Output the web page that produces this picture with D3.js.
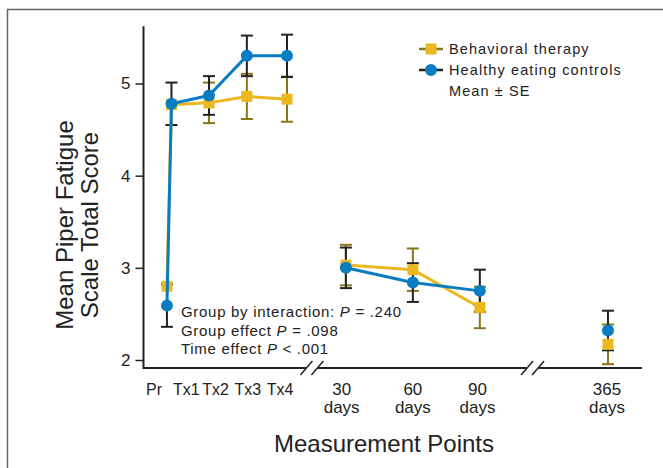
<!DOCTYPE html>
<html>
<head>
<meta charset="utf-8">
<script src="https://cdn.jsdelivr.net/npm/d3@7"></script>
<style>
  html, body { margin: 0; padding: 0; background: #fff; }
  svg { display: block; font-family: "Liberation Sans", Arial, Helvetica, sans-serif; }
</style>
</head>
<body>
<svg id="chart" width="663" height="468"></svg>
<script>
// ---------- data ----------
const categories = ["Pr", "Tx1", "Tx2", "Tx3", "Tx4", "30|days", "60|days", "90|days", "365|days"];
const labelSlot  = [0, 1, 1.9, 2.9, 3.9, 5.8, 8, 10, 14];
const pointSlot  = [0.4, 0.54, 1.7, 2.87, 4.11, 5.93, 8, 10.07, 14.03];
const phase      = ["tx", "tx", "tx", "tx", "tx", "fu", "fu", "fu", "long"];
const breakSlots = [4.88, 11.7];

const btMean = [2.80, 4.77, 4.79, 4.86, 4.83, 3.03, 2.98, 2.57, 2.17];
const btSE   = [0.00, 0.00, 0.22, 0.245, 0.245, 0.22, 0.23, 0.225, 0.215];
const heMean = [2.59, 4.78, 4.87, 5.30, 5.30, 3.00, 2.84, 2.75, 2.32];
const heSE   = [0.23, 0.23, 0.21, 0.22, 0.23, 0.22, 0.21, 0.23, 0.215];

const yTicks = [2, 3, 4, 5];
const seriesNames = ["Behavioral therapy", "Healthy eating controls"];
const legendNote = "Mean ± SE";
const annotations = [
  ["Group by interaction: ", "P", " = .240"],
  ["Group effect ", "P", " = .098"],
  ["Time effect ", "P", " < .001"]
];
const yTitle = ["Mean Piper Fatigue", "Scale Total Score"];
const xTitle = "Measurement Points";

// ---------- styles ----------
const BLUE = "#0a7dc2", GOLD = "#ebb91f", GOLD_DARK = "#8c7418", BLACK = "#222";

const svg = d3.select("#chart");

// frame
svg.append("path")
  .attr("d", "M7.5,468 V9.5 H663")
  .attr("fill", "none").attr("stroke", "#666").attr("stroke-width", 1.5);

const x = d3.scaleLinear().domain([0, 14]).range([154, 607]);
const y = d3.scaleLinear().domain([2, 5]).range([360, 83.5]);
const yTopVal = 5.62, yBotVal = 1.913;
const xLeft = 143.5, xRight = 642;
const yBase = y(yBotVal);

// y axis
const yAxis = d3.axisLeft(y).tickValues(yTicks).tickSize(8).tickPadding(5).tickFormat(d3.format("d"));
const gy = svg.append("g").attr("transform", `translate(${xLeft},0)`).call(yAxis);
gy.select(".domain").remove();
gy.selectAll(".tick line").attr("stroke", BLACK).attr("stroke-width", 1.5);
gy.selectAll(".tick text").attr("font-size", 17).attr("fill", "#222").attr("font-family", "Liberation Sans, Arial");
svg.append("line").attr("x1", xLeft).attr("x2", xLeft).attr("y1", y(yTopVal)).attr("y2", yBase + 1)
  .attr("stroke", BLACK).attr("stroke-width", 2);

// x axis with breaks
const gap = 6;
const xStops = [xLeft];
breakSlots.forEach(b => { xStops.push(x(b) - gap); xStops.push(x(b) + gap); });
xStops.push(xRight);
for (let i = 0; i < xStops.length; i += 2) {
  svg.append("line").attr("x1", xStops[i]).attr("x2", xStops[i + 1]).attr("y1", yBase).attr("y2", yBase)
    .attr("stroke", BLACK).attr("stroke-width", 2);
}
breakSlots.forEach(b => {
  [-5.5, 5.5].forEach(off => {
    const cx = x(b) + off;
    svg.append("line").attr("x1", cx - 6).attr("y1", yBase + 7).attr("x2", cx + 6).attr("y2", yBase - 7)
      .attr("stroke", BLACK).attr("stroke-width", 1.5);
  });
});

// x labels (each line its own text element)
categories.forEach((c, i) => {
  const parts = c.split("|");
  parts.forEach((p, k) => {
    svg.append("text").attr("x", x(labelSlot[i])).attr("y", 395 + k * 18)
      .attr("text-anchor", "middle").attr("fill", "#222")
      .attr("font-size", parts.length > 1 ? 17 : 16).text(p);
  });
});

// titles
svg.append("text").attr("x", 384).attr("y", 452).attr("text-anchor", "middle")
  .attr("font-size", 24).attr("fill", "#222").text(xTitle);
yTitle.forEach((t, k) => {
  svg.append("text").attr("transform", `translate(${73 + k * 25},225) rotate(-90)`)
    .attr("text-anchor", "middle").attr("font-size", 24).attr("fill", "#222").text(t);
});

// ---------- marks ----------
const idx = d3.range(categories.length);
const capW = 6;

function errorBars(mean, se, color) {
  const g = svg.append("g").attr("stroke", color).attr("stroke-width", 2).attr("fill", "none");
  idx.filter(i => se[i] > 0).forEach(i => {
    const cx = x(pointSlot[i]), y1 = y(mean[i] - se[i]), y2 = y(mean[i] + se[i]);
    g.append("line").attr("x1", cx).attr("x2", cx).attr("y1", y1).attr("y2", y2);
    g.append("line").attr("x1", cx - capW).attr("x2", cx + capW).attr("y1", y1).attr("y2", y1);
    g.append("line").attr("x1", cx - capW).attr("x2", cx + capW).attr("y1", y2).attr("y2", y2);
  });
}
errorBars(btMean, btSE, GOLD_DARK);
errorBars(heMean, heSE, BLACK);

const line = d3.line().x(i => x(pointSlot[i]));
const groups = d3.groups(idx, i => phase[i]).map(d => d[1]);

function drawSeries(mean, color) {
  const ln = line.y(i => y(mean[i]));
  groups.forEach(gi => {
    if (gi.length > 1) svg.append("path").attr("d", ln(gi)).attr("fill", "none")
      .attr("stroke", color).attr("stroke-width", 3).attr("stroke-linejoin", "round");
  });
}
drawSeries(btMean, GOLD);
svg.append("g").selectAll("rect").data(idx).join("rect")
  .attr("x", i => x(pointSlot[i]) - 5.5).attr("y", i => y(btMean[i]) - 5.5)
  .attr("width", 11).attr("height", 11).attr("fill", GOLD);
drawSeries(heMean, BLUE);
svg.append("g").selectAll("circle").data(idx).join("circle")
  .attr("cx", i => x(pointSlot[i])).attr("cy", i => y(heMean[i])).attr("r", 6).attr("fill", BLUE);

// ---------- legend ----------
const lg = svg.append("g").attr("font-size", 14.5).attr("fill", "#222").attr("letter-spacing", 1.1);
const lx0 = 419, lx1 = 443, ltx = 449;
[[49, GOLD_DARK, "sq"], [70, BLACK, "ci"]].forEach(([ly, lc, m], k) => {
  lg.append("line").attr("x1", lx0).attr("x2", lx1).attr("y1", ly).attr("y2", ly).attr("stroke", lc).attr("stroke-width", 2.5);
  if (m === "sq") lg.append("rect").attr("x", 431 - 5.5).attr("y", ly - 5.5).attr("width", 11).attr("height", 11).attr("fill", GOLD);
  else lg.append("circle").attr("cx", 431).attr("cy", ly).attr("r", 6).attr("fill", BLUE);
  lg.append("text").attr("x", ltx).attr("y", ly + 5).text(seriesNames[k]);
});
lg.append("text").attr("x", ltx).attr("y", 96).text(legendNote);

// ---------- annotations ----------
const ag = svg.append("g").attr("font-size", 15).attr("fill", "#222").attr("letter-spacing", 0.7);
annotations.forEach((a, k) => {
  const t = ag.append("text").attr("x", 181).attr("y", 317 + k * 18.7);
  t.append("tspan").text(a[0]);
  t.append("tspan").attr("font-style", "italic").text(a[1]);
  t.append("tspan").text(a[2]);
});
</script>
</body>
</html>
